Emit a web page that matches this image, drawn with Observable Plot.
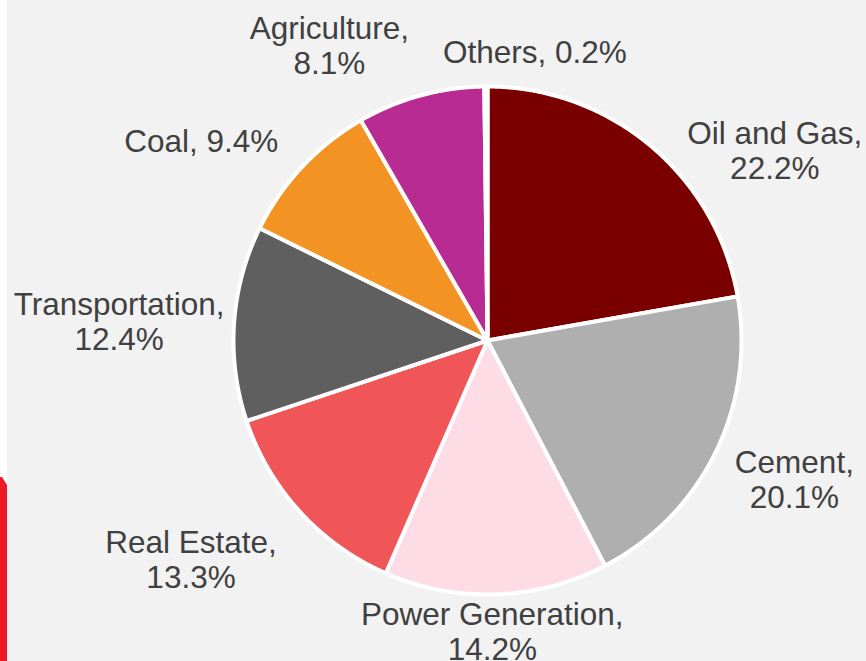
<!DOCTYPE html>
<html>
<head>
<meta charset="utf-8">
<script src="https://cdn.jsdelivr.net/npm/d3@7"></script>
<script src="https://cdn.jsdelivr.net/npm/@observablehq/plot@0.6"></script>
<style>
  html, body { margin: 0; padding: 0; background: #f2f2f2; }
  #wrap { position: relative; width: 866px; height: 661px; overflow: hidden; background: #f2f2f2; }
  #edgeWhite { position: absolute; left: 0; top: 0; width: 7px; height: 485px; background: #ffffff; }
  #edgeRed { position: absolute; left: 0; top: 477px; width: 7px; height: 184px; background: #ed1c24;
             clip-path: polygon(0 0, 2px 0, 7px 8px, 7px 100%, 0 100%); }
  #chart svg { display: block; }
</style>
</head>
<body>
<div id="wrap">
  <div id="chart"></div>
  <div id="edgeWhite"></div>
  <div id="edgeRed"></div>
</div>
<script>
// ---- data ----
const categories = ["Oil and Gas", "Cement", "Power Generation", "Real Estate", "Transportation", "Coal", "Agriculture", "Others"];
const shares = [22.2, 20.1, 14.2, 13.3, 12.4, 9.4, 8.1, 0.2];
const labelTexts = ["Oil and Gas,\n22.2%", "Cement,\n20.1%", "Power Generation,\n14.2%", "Real Estate,\n13.3%", "Transportation,\n12.4%", "Coal, 9.4%", "Agriculture,\n8.1%", "Others, 0.2%"];

// ---- style / layout ----
const colors = ["#7a0000", "#afafaf", "#fddce6", "#f05558", "#5f5f5f", "#f39324", "#b82b92", "#ffffff"];
// pixel nudges of each label from the slice's outer mid-arc point
const labelNudge = [[124, 4], [79, 27], [-4, 37], [-109, 47], [-115, -2], [-101, -26], [-91, -50], [49, -35]];

const data = categories.map((name, i) => ({name, value: shares[i], label: labelTexts[i]}));
const arcs = d3.pie().sort(null).value(d => d.value)(data);

// polygon outline of each slice in unit-radius coordinates (angle clockwise from 12 o'clock)
const pts = [];
arcs.forEach(a => {
  const name = a.data.name;
  pts.push({name, x: 0, y: 0});
  const n = Math.max(2, Math.ceil((a.endAngle - a.startAngle) / 0.004));
  for (let k = 0; k <= n; k++) {
    const t = a.startAngle + (a.endAngle - a.startAngle) * k / n;
    pts.push({name, x: Math.sin(t), y: Math.cos(t)});
  }
});

const labelAnchors = arcs.map((a, i) => {
  const m = (a.startAngle + a.endAngle) / 2;
  return {x: Math.sin(m), y: Math.cos(m), label: a.data.label, i};
});

const textMarks = labelAnchors.map((d, i) => Plot.text([d], {
  x: "x", y: "y", text: "label",
  dx: labelNudge[i][0], dy: labelNudge[i][1],
  textAnchor: "middle", lineAnchor: "middle", lineHeight: 1.11,
  fontSize: 31.5, fontFamily: "'Liberation Sans', Arial, sans-serif",
  fill: "#404040"
}));

const chart = Plot.plot({
  width: 866,
  height: 661,
  margin: 0,
  x: {domain: [-1, 1], range: [233, 741], axis: null},
  y: {domain: [-1, 1], range: [594, 86], axis: null},
  color: {domain: categories, range: colors},
  style: {background: "#f2f2f2", overflow: "visible"},
  marks: [
    Plot.line(pts, {x: "x", y: "y", z: "name", fill: "name", stroke: "#ffffff", strokeWidth: 4,
                    strokeLinejoin: "round", curve: "linear-closed"}),
    ...textMarks
  ]
});
document.getElementById("chart").appendChild(chart);
</script>
</body>
</html>
